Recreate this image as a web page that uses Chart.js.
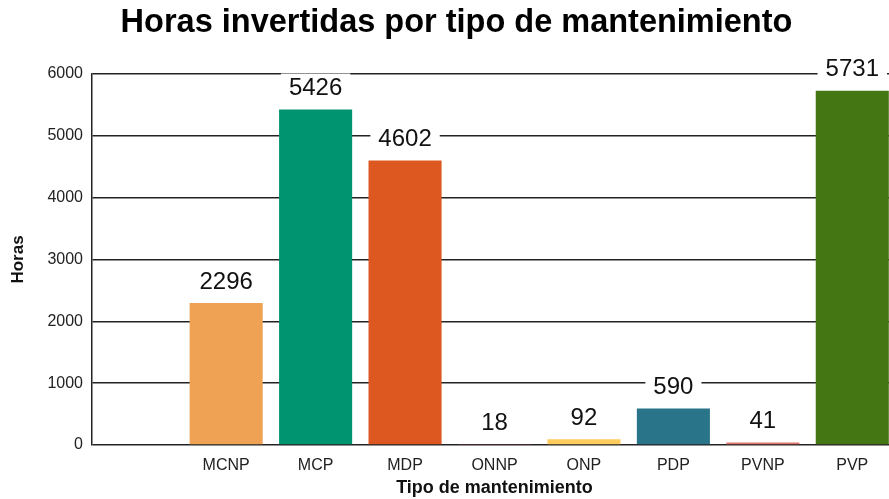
<!DOCTYPE html>
<html lang="es">

<head>
    <meta charset="UTF-8">
    <title>Horas por tipo de mantenimiento</title>
    <script src="https://cdn.jsdelivr.net/npm/chart.js"></script>
    <style>
        body { margin: 0; overflow: hidden; background: #fff; }
        .caja { width: 897px; height: 499px; }
    </style>
</head>

<body>
    <div class="caja">
        <canvas id="grafico"></canvas>
    </div>
</body>

</html>
<script>

    // datos
    var tipos = ['', 'MCNP', 'MCP', 'MDP', 'ONNP', 'ONP', 'PDP', 'PVNP', 'PVP'];
    var horas = [null, 2296, 5426, 4602, 18, 92, 590, 41, 5731];
    var colores = ['#ffffff', '#EFA254', '#009470', '#DC5820', '#B0386F', '#FFCC5E', '#2A7489', '#DF746B', '#457614'];
    var marcasY = [0, 1000, 2000, 3000, 4000, 5000, 6000];

    var fuente = '"Liberation Sans", Arial, sans-serif';

    // etiquetas encima de las barras con fondo blanco
    const etiquetas = {
        id: 'etiquetas',
        afterDatasetsDraw(chart) {
            const ctx = chart.ctx;
            const meta = chart.getDatasetMeta(0);
            ctx.save();
            ctx.font = '24px ' + fuente;
            ctx.textAlign = 'center';
            ctx.textBaseline = 'middle';
            meta.data.forEach(function (barra, i) {
                if (horas[i] == null) return;
                var txt = String(horas[i]);
                var w = ctx.measureText(txt).width;
                var cy = barra.y - 22;
                ctx.fillStyle = '#ffffff';
                ctx.fillRect(barra.x - w / 2 - 8, cy - 14, w + 16, 28);
                ctx.fillStyle = '#111111';
                ctx.fillText(txt, barra.x, cy + 1);
            });
            ctx.restore();
        }
    };

    const ctx = document.getElementById('grafico');

    new Chart(ctx, {
        type: 'bar',
        data: {
            labels: tipos,
            datasets: [{
                label: 'Horas',
                data: horas,
                backgroundColor: colores,
                barPercentage: 0.817,
                categoryPercentage: 1
            }]
        },
        options: {
            responsive: true,
            maintainAspectRatio: false,
            animation: false,
            layout: { padding: { left: 16, right: 0, top: 0, bottom: 0 } },
            plugins: {
                legend: { display: false },
                tooltip: { enabled: false },
                title: {
                    display: true,
                    text: 'Horas invertidas por tipo de mantenimiento',
                    color: '#000',
                    font: { family: fuente, size: 32.5, weight: 'bold' },
                    padding: { top: 4, bottom: 31 }
                }
            },
            scales: {
                x: {
                    grid: { display: false, drawTicks: false },
                    border: { display: false },
                    ticks: {
                        color: '#222',
                        padding: 11,
                        font: { family: fuente, size: 16 }
                    },
                    title: {
                        display: true,
                        text: 'Tipo de mantenimiento',
                        color: '#111',
                        padding: { top: 4, bottom: 0 },
                        font: { family: fuente, size: 18, weight: 'bold' }
                    },
                    afterFit: function (scale) { scale.height = 54; }
                },
                y: {
                    min: 0,
                    max: 6000,
                    afterBuildTicks: function (scale) {
                        scale.ticks = marcasY.map(function (v) { return { value: v }; });
                    },
                    grid: { color: '#222', lineWidth: 1.5, drawTicks: false },
                    border: { display: true, color: '#222', width: 1.5 },
                    ticks: {
                        color: '#222',
                        padding: 9,
                        font: { family: fuente, size: 16 },
                        callback: function (v) { return String(v); }
                    },
                    title: {
                        display: true,
                        text: 'Horas',
                        color: '#111',
                        padding: { top: -8, bottom: 0 },
                        font: { family: fuente, size: 17, weight: 'bold' }
                    },
                    afterFit: function (scale) { scale.width = 76; }
                }
            }
        },
        plugins: [etiquetas]
    });

</script>
